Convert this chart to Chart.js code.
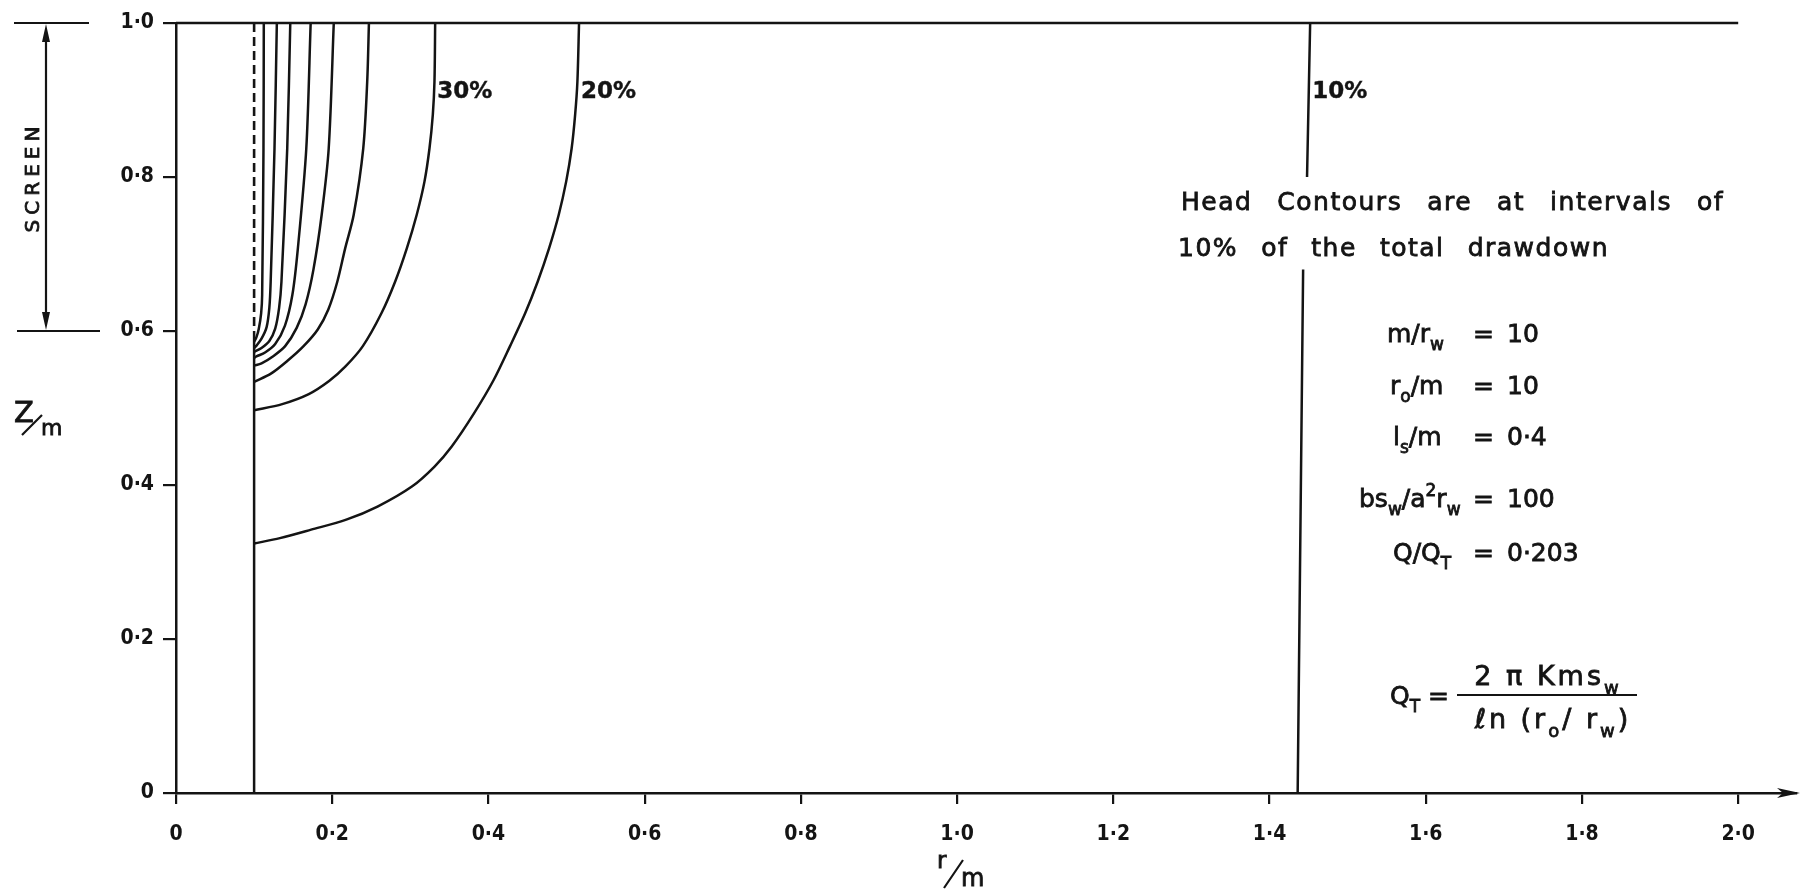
<!DOCTYPE html>
<html>
<head>
<meta charset="utf-8">
<title>Head contours</title>
<script src="https://cdn.jsdelivr.net/npm/chart.js@4.4.1/dist/chart.umd.min.js"></script>
<style>
  html, body { margin: 0; padding: 0; background: #fff; }
  canvas { display: block; }
</style>
</head>
<body>
<canvas id="myChart" width="1802" height="889"></canvas>
<script>
var xTicks = [0, 0.2, 0.4, 0.6, 0.8, 1.0, 1.2, 1.4, 1.6, 1.8, 2.0];
var xTickLabels = ['0', '0·2', '0·4', '0·6', '0·8', '1·0', '1·2', '1·4', '1·6', '1·8', '2·0'];
var yTicks = [0, 0.2, 0.4, 0.6, 0.8, 1.0];
var yTickLabels = ['0', '0·2', '0·4', '0·6', '0·8', '1·0'];

// well radius and screen (r/m, z/m)
var wellR = 0.1;
var screenTop = 1.0;
var screenBottom = 0.6;
var topR = [0, 2.0];

// head contours, read from the top (z=1) down to where they meet the well
var r90 = [0.1124, 0.1120, 0.1103, 0.1090, 0.1060, 0.1030, 0.1];
var z90 = [1.0, 0.837, 0.647, 0.623, 0.603, 0.592, 0.586];
var r80 = [0.1291, 0.1261, 0.1212, 0.1195, 0.1160, 0.1095, 0.1030, 0.1];
var z80 = [1.0, 0.837, 0.664, 0.630, 0.605, 0.590, 0.581, 0.578];
var r70 = [0.1463, 0.1424, 0.1350, 0.1320, 0.1270, 0.1195, 0.1095, 0.1];
var z70 = [1.0, 0.837, 0.664, 0.630, 0.603, 0.587, 0.578, 0.573];
var r60 = [0.1724, 0.1668, 0.1560, 0.1490, 0.1395, 0.1270, 0.1140, 0.1030, 0.1];
var z60 = [1.0, 0.837, 0.707, 0.647, 0.607, 0.583, 0.572, 0.567, 0.565];
var r50 = [0.2020, 0.1955, 0.1865, 0.1760, 0.1660, 0.1545, 0.1395, 0.1240, 0.1095, 0.1];
var z50 = [1.0, 0.837, 0.751, 0.680, 0.635, 0.604, 0.580, 0.567, 0.558, 0.555];
var r40 = [0.2470, 0.2448, 0.2397, 0.2275, 0.2165, 0.2065, 0.1950, 0.1815, 0.1630, 0.1435, 0.1220, 0.1];
var z40 = [1.0, 0.924, 0.837, 0.751, 0.707, 0.664, 0.628, 0.602, 0.580, 0.562, 0.545, 0.534];
var r30 = [0.3318, 0.3309, 0.3288, 0.3245, 0.3181, 0.3082, 0.2954, 0.2805, 0.2630, 0.2390, 0.2170, 0.1960, 0.1700, 0.1360, 0.1];
var z30 = [1.0, 0.924, 0.881, 0.837, 0.794, 0.751, 0.707, 0.664, 0.623, 0.580, 0.554, 0.535, 0.518, 0.505, 0.497];
var r20 = [0.5160, 0.5139, 0.5110, 0.5065, 0.4995, 0.4900, 0.4775, 0.4630, 0.4470, 0.4275, 0.4065, 0.3815, 0.3530, 0.3310, 0.3020, 0.2580, 0.2180, 0.1730, 0.1330, 0.1];
var z20 = [1.0, 0.924, 0.881, 0.837, 0.794, 0.751, 0.707, 0.664, 0.623, 0.580, 0.536, 0.493, 0.450, 0.424, 0.398, 0.372, 0.355, 0.342, 0.331, 0.324];
// 10% is nearly straight, broken where the note crosses it
var r10 = [1.452, 1.448, 1.446, 1.443, 1.436];
var z10 = [1.0, 0.80, null, 0.68, 0];

var contourLabels = ['30%', '20%', '10%'];
var labelR = [r30[0], r20[0], r10[0]];
var labelZ = 0.903;

var ink = '#141414';
var tickFont = { family: '"Liberation Sans Narrow", "DejaVu Sans Condensed", sans-serif', size: 21, weight: 'bold' };

function pts(rs, zs) {
	return rs.map(function (r, i) { return { x: r, y: zs[i] }; });
}
function curve(rs, zs, extra) {
	var d = {
		data: pts(rs, zs),
		showLine: true,
		borderColor: ink,
		borderWidth: 2.5,
		pointRadius: 0,
		tension: 0.3,
		spanGaps: false,
		clip: false
	};
	for (var k in extra) d[k] = extra[k];
	return d;
}

// filled text plus a thin outline, to get the heavier pen of the lettering
function ink_text(c, t, x, y) {
	c.fillText(t, x, y);
	c.strokeText(t, x, y);
}

// text with sub/superscripts: parts = [[text, 0 normal | 1 sub | 2 sup], ...]
function rich(c, x, y, parts, size) {
	parts.forEach(function (p) {
		var s = p[1] ? Math.round(size * 0.66) : size;
		c.font = s + 'px "DejaVu Sans"';
		var dy = p[1] === 1 ? size * 0.32 : (p[1] === 2 ? -size * 0.45 : 0);
		ink_text(c, p[0], x, y + dy);
		x += c.measureText(p[0]).width;
	});
	return x;
}
function richWidth(c, parts, size) {
	var w = 0;
	parts.forEach(function (p) {
		c.font = (p[1] ? Math.round(size * 0.66) : size) + 'px "DejaVu Sans"';
		w += c.measureText(p[0]).width;
	});
	return w;
}
function spread(c, words, x0, x1, y) {
	var widths = words.map(function (w) { return c.measureText(w).width; });
	var total = widths.reduce(function (a, b) { return a + b; }, 0);
	var gap = (x1 - x0 - total) / (words.length - 1);
	var x = x0;
	words.forEach(function (w, i) {
		ink_text(c, w, x, y);
		x += widths[i] + gap;
	});
}

var extras = {
	id: 'extras',
	afterDraw: function (chart) {
		var c = chart.ctx, xs = chart.scales.x, ys = chart.scales.y, a = chart.chartArea;
		c.save();
		c.fillStyle = ink;
		c.strokeStyle = ink;
		c.lineWidth = 2.2;
		c.textAlign = 'left';
		c.textBaseline = 'alphabetic';

		// arrow on the r axis
		c.beginPath();
		c.moveTo(a.right + 4, a.bottom);
		c.lineTo(a.right - 19, a.bottom - 5);
		c.lineTo(a.right - 13, a.bottom);
		c.lineTo(a.right - 19, a.bottom + 5);
		c.closePath();
		c.fill();

		// screen marker on the left
		var yT = ys.getPixelForValue(screenTop), yB = ys.getPixelForValue(screenBottom);
		c.beginPath();
		c.moveTo(14, yT); c.lineTo(89, yT);
		c.moveTo(17, yB); c.lineTo(100, yB);
		c.moveTo(46, yT + 10); c.lineTo(46, yB - 10);
		c.stroke();
		c.beginPath();
		c.moveTo(46, yT + 1); c.lineTo(42, yT + 19); c.lineTo(50, yT + 19); c.closePath();
		c.moveTo(46, yB - 1); c.lineTo(42, yB - 19); c.lineTo(50, yB - 19); c.closePath();
		c.fill();
		c.lineWidth = 0.8;
		c.save();
		c.translate(34, (yT + yB) / 2);
		c.rotate(-Math.PI / 2);
		c.font = '20px "DejaVu Sans"';
		c.letterSpacing = '5px';
		c.textAlign = 'center';
		c.textBaseline = 'middle';
		ink_text(c, 'SCREEN', 0, 0);
		c.restore();

		// axis titles Z/m and r/m
		c.font = '29px "DejaVu Sans"';
		ink_text(c, 'Z', 14, 422);
		c.font = '22px "DejaVu Sans"';
		ink_text(c, 'm', 41, 435);
		c.font = '23px "DejaVu Sans"';
		ink_text(c, 'r', 937, 868);
		c.font = '24px "DejaVu Sans"';
		ink_text(c, 'm', 961, 886);
		c.lineWidth = 2.2;
		c.beginPath();
		c.moveTo(22, 435); c.lineTo(42, 415);
		c.moveTo(944, 888); c.lineTo(963, 860);
		c.stroke();

		// contour labels
		c.lineWidth = 0.4;
		c.font = 'bold 23px "DejaVu Sans"';
		contourLabels.forEach(function (t, i) {
			ink_text(c, t, xs.getPixelForValue(labelR[i]) + 2, ys.getPixelForValue(labelZ));
		});

		// note
		c.lineWidth = 0.8;
		c.font = '25px "DejaVu Sans"';
		c.letterSpacing = '1.5px';
		spread(c, ['Head', 'Contours', 'are', 'at', 'intervals', 'of'], 1181, 1724, 210);
		spread(c, ['10%', 'of', 'the', 'total', 'drawdown'], 1178, 1609, 256);
		c.letterSpacing = '0px';

		// parameters
		var rows = [
			{ p: [['m/r', 0], ['w', 1]], x: 1387, y: 342, v: '10' },
			{ p: [['r', 0], ['o', 1], ['/m', 0]], x: 1390, y: 394, v: '10' },
			{ p: [['l', 0], ['s', 1], ['/m', 0]], x: 1393, y: 445, v: '0·4' },
			{ p: [['bs', 0], ['w', 1], ['/a', 0], ['2', 2], ['r', 0], ['w', 1]], x: 1359, y: 507, v: '100' },
			{ p: [['Q/Q', 0], ['T', 1]], x: 1393, y: 561, v: '0·203' }
		];
		rows.forEach(function (row) {
			rich(c, row.x, row.y, row.p, 25);
			c.font = '25px "DejaVu Sans"';
			ink_text(c, '=', 1473, row.y);
			ink_text(c, row.v, 1507, row.y);
		});

		// Q_T = 2 pi K m s_w / ln(r_o/r_w)
		rich(c, 1390, 704, [['Q', 0], ['T', 1]], 25);
		c.font = '25px "DejaVu Sans"';
		ink_text(c, '=', 1428, 704);
		c.letterSpacing = '3px';
		var num = [['2 π Kms', 0], ['w', 1]];
		var den = [['ℓn (r', 0], ['o', 1], ['/ r', 0], ['w', 1], [')', 0]];
		rich(c, 1548 - richWidth(c, num, 27) / 2, 685, num, 27);
		rich(c, 1553 - richWidth(c, den, 27) / 2, 728, den, 27);
		c.letterSpacing = '0px';
		c.lineWidth = 2.2;
		c.beginPath(); c.moveTo(1457, 695); c.lineTo(1637, 695); c.stroke();

		c.restore();
	}
};

var ctx = document.getElementById('myChart');
var myChart = new Chart(ctx, {
	type: 'scatter',
	data: {
		datasets: [
			curve(topR, [screenTop, screenTop], { tension: 0 }),
			curve([wellR, wellR], [screenTop, screenBottom], { tension: 0, borderDash: [9, 5], borderWidth: 2.6 }),
			curve([wellR, wellR], [screenBottom, 0], { tension: 0 }),
			curve(r90, z90),
			curve(r80, z80),
			curve(r70, z70),
			curve(r60, z60),
			curve(r50, z50),
			curve(r40, z40),
			curve(r30, z30),
			curve(r20, z20),
			curve(r10, z10, { tension: 0 })
		]
	},
	options: {
		responsive: false,
		devicePixelRatio: 1,
		animation: false,
		events: [],
		layout: { padding: { top: 23, right: 6, left: 0, bottom: 0 } },
		plugins: { legend: { display: false }, tooltip: { enabled: false } },
		scales: {
			x: {
				type: 'linear',
				min: 0,
				max: 2.074,
				afterBuildTicks: function (s) { s.ticks = xTicks.map(function (v) { return { value: v }; }); },
				afterFit: function (s) { s.height = 96; },
				ticks: {
					callback: function (v, i) { return xTickLabels[i]; },
					font: tickFont,
					color: ink,
					padding: 18,
					maxRotation: 0,
					autoSkip: false
				},
				grid: { drawOnChartArea: false, drawTicks: true, tickLength: 11, lineWidth: 2.2, color: ink },
				border: { display: true, color: ink, width: 2.5 }
			},
			y: {
				type: 'linear',
				min: 0,
				max: 1,
				afterBuildTicks: function (s) { s.ticks = yTicks.map(function (v) { return { value: v }; }); },
				afterFit: function (s) { s.width = 176; },
				ticks: {
					callback: function (v, i) { return yTickLabels[i]; },
					font: tickFont,
					color: ink,
					padding: 9,
					autoSkip: false
				},
				grid: { drawOnChartArea: false, drawTicks: true, tickLength: 13, lineWidth: 2.2, color: ink },
				border: { display: true, color: ink, width: 2.5 }
			}
		}
	},
	plugins: [extras]
});
</script>
</body>
</html>
